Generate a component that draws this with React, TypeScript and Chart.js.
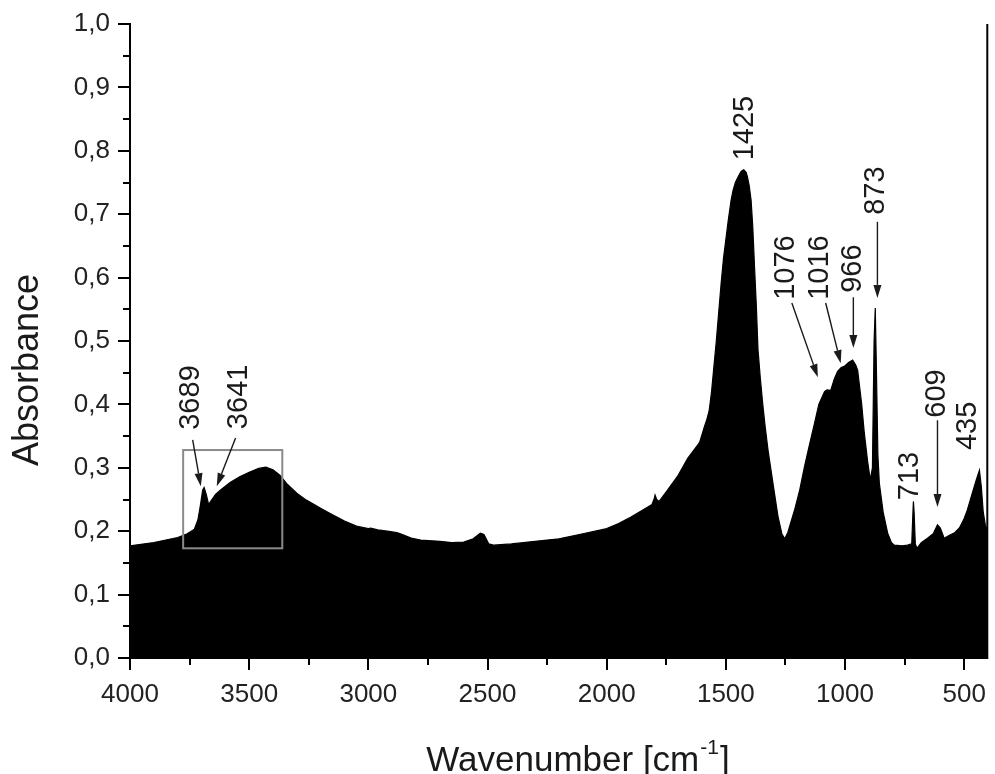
import React, { useEffect, useRef } from "react";
import { Chart, registerables } from "chart.js";

Chart.register(...registerables);

// ---- Spectrum data (wavenumber in cm-1, absorbance) ----
const WAVENUMBER = [
  4000, 3900, 3800, 3760, 3730, 3715, 3705, 3695, 3689, 3680, 3670, 3660, 3641, 3620, 3580, 3540, 3500, 3460, 3430,
  3400, 3370, 3340, 3300, 3260, 3200, 3160, 3100, 3050, 3000, 2990, 2960, 2920, 2880, 2860, 2820, 2780, 2700, 2650,
  2600, 2560, 2530, 2515, 2495, 2475, 2400, 2300, 2200, 2100, 2000, 1950, 1900, 1850, 1810, 1800, 1797, 1790, 1780,
  1750, 1700, 1660, 1630, 1610, 1590, 1580, 1570, 1560, 1550, 1540, 1530, 1520, 1510, 1500, 1490, 1478, 1470, 1460,
  1450, 1440, 1435, 1425, 1415, 1410, 1402, 1394, 1387, 1380, 1372, 1365, 1355, 1345, 1335, 1323, 1300, 1281, 1265,
  1253, 1240, 1212, 1190, 1170, 1150, 1128, 1110, 1086, 1076, 1060, 1045, 1031, 1016, 1003, 985, 968, 955, 947, 930,
  919, 905, 894, 885, 878, 873, 868, 862, 856, 840, 821, 805, 793, 760, 738, 720, 715, 713, 710, 705, 698, 680, 654,
  630, 612, 600, 584, 560, 542, 520, 500, 487, 470, 450, 436, 428, 420, 410, 403,
];
const ABSORBANCE = [
  0.177, 0.182, 0.19, 0.196, 0.203, 0.218, 0.24, 0.265, 0.269, 0.258, 0.242, 0.248, 0.258, 0.265, 0.277, 0.286, 0.293,
  0.299, 0.301, 0.297, 0.288, 0.274, 0.26, 0.249, 0.236, 0.228, 0.216, 0.208, 0.204, 0.205, 0.202, 0.2, 0.198, 0.195,
  0.189, 0.186, 0.184, 0.182, 0.183, 0.188, 0.197, 0.195, 0.18, 0.178, 0.18, 0.184, 0.188, 0.196, 0.204, 0.212, 0.222,
  0.233, 0.242, 0.252, 0.257, 0.25, 0.247, 0.262, 0.288, 0.315, 0.33, 0.34, 0.365, 0.376, 0.39, 0.42, 0.46, 0.5,
  0.545, 0.59, 0.63, 0.66, 0.69, 0.722, 0.737, 0.75, 0.758, 0.765, 0.768, 0.77, 0.766, 0.76, 0.745, 0.722, 0.68, 0.62,
  0.555, 0.486, 0.44, 0.4, 0.365, 0.328, 0.27, 0.223, 0.196, 0.188, 0.198, 0.233, 0.265, 0.302, 0.335, 0.37, 0.4,
  0.42, 0.423, 0.422, 0.44, 0.452, 0.458, 0.46, 0.466, 0.47, 0.462, 0.454, 0.4, 0.355, 0.31, 0.281, 0.3, 0.5, 0.552,
  0.45, 0.32, 0.276, 0.23, 0.197, 0.182, 0.178, 0.177, 0.178, 0.18, 0.23, 0.247, 0.23, 0.18, 0.173, 0.182, 0.189,
  0.196, 0.21, 0.205, 0.189, 0.194, 0.197, 0.205, 0.22, 0.233, 0.255, 0.28, 0.296, 0.27, 0.23, 0.207, 0.205,
];

// ---- Axes ----
const X_MIN = 403;
const X_MAX = 4000;
const X_TICKS = [4000, 3500, 3000, 2500, 2000, 1500, 1000, 500];
const X_MINOR = [3750, 3250, 2750, 2250, 1750, 1250, 750];
const Y_TICKS = [0, 0.1, 0.2, 0.3, 0.4, 0.5, 0.6, 0.7, 0.8, 0.9, 1.0];
const Y_MINOR = [0.05, 0.15, 0.25, 0.35, 0.45, 0.55, 0.65, 0.75, 0.85, 0.95];
const X_TITLE = "Wavenumber [cm";
const X_TITLE_SUP = "-1";
const X_TITLE_END = "]";
const Y_TITLE = "Absorbance";

// ---- Peak annotations (data coordinates) ----
const PEAK_LABELS = ["3689", "3641", "1425", "1076", "1016", "966", "873", "713", "609", "435"];
const LABEL_WN = [3745, 3544, 1420, 1248, 1106, 968, 872, 727, 612, 483];
const LABEL_ABS = [0.36, 0.361, 0.785, 0.565, 0.565, 0.576, 0.699, 0.249, 0.379, 0.328];
const ARROW_FROM_WN = [3737, 3557, null, 1223, 1081, 965, 864, null, 612, null];
const ARROW_FROM_ABS = [0.344, 0.347, null, 0.56, 0.56, 0.569, 0.688, null, 0.375, null];
const ARROW_TO_WN = [3703, 3636, null, 1114, 1018, 965, 864, null, 612, null];
const ARROW_TO_ABS = [0.271, 0.271, null, 0.443, 0.465, 0.489, 0.568, null, 0.238, null];

// ---- Inset box (data coordinates) ----
const BOX_WN = [3777, 3361];
const BOX_ABS = [0.328, 0.173];

const FONT = '"Liberation Sans", Arial, sans-serif';

const decorPlugin = {
  id: "decor",
  afterDraw(chart: any) {
    const ctx = chart.ctx;
    const xs = chart.scales.x;
    const ys = chart.scales.y;
    const area = chart.chartArea;
    ctx.save();
    // right border
    ctx.strokeStyle = "#000";
    ctx.lineWidth = 2;
    ctx.beginPath();
    ctx.moveTo(area.right, area.top);
    ctx.lineTo(area.right, area.bottom + 1);
    ctx.stroke();
    // minor ticks
    ctx.beginPath();
    X_MINOR.forEach((v) => {
      const px = Math.round(xs.getPixelForValue(v));
      ctx.moveTo(px, area.bottom);
      ctx.lineTo(px, area.bottom + 7);
    });
    Y_MINOR.forEach((v) => {
      const py = Math.round(ys.getPixelForValue(v));
      ctx.moveTo(area.left, py);
      ctx.lineTo(area.left - 7, py);
    });
    ctx.stroke();

    // inset box
    ctx.strokeStyle = "#8a8a8a";
    ctx.lineWidth = 2;
    const bx1 = xs.getPixelForValue(BOX_WN[0]);
    const bx2 = xs.getPixelForValue(BOX_WN[1]);
    const by1 = ys.getPixelForValue(BOX_ABS[0]);
    const by2 = ys.getPixelForValue(BOX_ABS[1]);
    ctx.strokeRect(bx1, by1, bx2 - bx1, by2 - by1);

    // peak labels
    ctx.fillStyle = "#1a1a1a";
    ctx.font = `29px ${FONT}`;
    ctx.textAlign = "left";
    ctx.textBaseline = "middle";
    PEAK_LABELS.forEach((t, i) => {
      const px = xs.getPixelForValue(LABEL_WN[i]);
      const py = ys.getPixelForValue(LABEL_ABS[i]);
      ctx.save();
      ctx.translate(px, py);
      ctx.rotate(-Math.PI / 2);
      ctx.fillText(t, 0, 0);
      ctx.restore();
    });

    // arrows
    ctx.strokeStyle = "#1a1a1a";
    ctx.fillStyle = "#1a1a1a";
    ctx.lineWidth = 1.4;
    PEAK_LABELS.forEach((_, i) => {
      const fw = ARROW_FROM_WN[i];
      if (fw == null) return;
      const x1 = xs.getPixelForValue(fw);
      const y1 = ys.getPixelForValue(ARROW_FROM_ABS[i] as number);
      const x2 = xs.getPixelForValue(ARROW_TO_WN[i] as number);
      const y2 = ys.getPixelForValue(ARROW_TO_ABS[i] as number);
      const ang = Math.atan2(y2 - y1, x2 - x1);
      const hl = 13;
      const hw = 4;
      const bx = x2 - hl * Math.cos(ang);
      const byy = y2 - hl * Math.sin(ang);
      ctx.beginPath();
      ctx.moveTo(x1, y1);
      ctx.lineTo(bx, byy);
      ctx.stroke();
      ctx.beginPath();
      ctx.moveTo(x2, y2);
      ctx.lineTo(bx + hw * Math.sin(ang), byy - hw * Math.cos(ang));
      ctx.lineTo(bx - hw * Math.sin(ang), byy + hw * Math.cos(ang));
      ctx.closePath();
      ctx.fill();
    });

    // axis titles
    ctx.fillStyle = "#1a1a1a";
    ctx.font = `36px ${FONT}`;
    ctx.textAlign = "center";
    ctx.textBaseline = "middle";
    ctx.save();
    ctx.translate(28, 370);
    ctx.rotate(-Math.PI / 2);
    ctx.fillText(Y_TITLE, 0, 0);
    ctx.restore();

    const mainFont = `35px ${FONT}`;
    const supFont = `21px ${FONT}`;
    ctx.font = mainFont;
    const w1 = ctx.measureText(X_TITLE).width;
    const w3 = ctx.measureText(X_TITLE_END).width;
    ctx.font = supFont;
    const w2 = ctx.measureText(X_TITLE_SUP).width;
    const total = w1 + w2 + w3 + 2;
    let sx = 578 - total / 2;
    const base = 771;
    ctx.textAlign = "left";
    ctx.textBaseline = "alphabetic";
    ctx.font = mainFont;
    ctx.fillText(X_TITLE, sx, base);
    sx += w1 + 1;
    ctx.font = supFont;
    ctx.fillText(X_TITLE_SUP, sx, base - 17);
    sx += w2 + 1;
    ctx.font = mainFont;
    ctx.fillText(X_TITLE_END, sx, base);
    ctx.restore();
  },
};

export default function App() {
  const ref = useRef<HTMLCanvasElement | null>(null);
  useEffect(() => {
    if (!ref.current) return;
    const points = WAVENUMBER.map((w, i) => ({ x: w, y: ABSORBANCE[i] }));
    const chart = new Chart(ref.current, {
      type: "line",
      data: {
        datasets: [
          {
            data: points,
            borderColor: "#000",
            backgroundColor: "#000",
            borderWidth: 1.2,
            pointRadius: 0,
            fill: "origin",
            tension: 0,
          },
        ],
      },
      options: {
        animation: false,
        responsive: false,
        maintainAspectRatio: false,
        layout: { padding: { top: 24, right: 5, left: 0, bottom: 0 } },
        plugins: { legend: { display: false }, tooltip: { enabled: false }, title: { display: false } },
        scales: {
          x: {
            type: "linear",
            reverse: true,
            min: X_MIN,
            max: X_MAX,
            afterBuildTicks: (scale: any) => {
              scale.ticks = X_TICKS.map((v) => ({ value: v }));
            },
            afterFit: (scale: any) => {
              scale.height = 116;
            },
            grid: {
              display: true,
              drawOnChartArea: false,
              drawTicks: true,
              tickLength: 12,
              color: "#000",
              lineWidth: 2,
            },
            border: { display: true, color: "#000", width: 2 },
            ticks: {
              color: "#222",
              padding: 9,
              maxRotation: 0,
              autoSkip: false,
              font: { family: FONT, size: 26 },
              callback: (v: any) => String(v),
            },
          },
          y: {
            type: "linear",
            min: 0,
            max: 1,
            afterBuildTicks: (scale: any) => {
              scale.ticks = Y_TICKS.map((v) => ({ value: v }));
            },
            afterFit: (scale: any) => {
              scale.width = 130;
            },
            grid: {
              display: true,
              drawOnChartArea: false,
              drawTicks: true,
              tickLength: 12,
              color: "#000",
              lineWidth: 2,
            },
            border: { display: true, color: "#000", width: 2 },
            ticks: {
              color: "#222",
              padding: 8,
              autoSkip: false,
              font: { family: FONT, size: 26 },
              callback: (v: any) => Number(v).toFixed(1).replace(".", ","),
            },
          },
        },
      },
      plugins: [decorPlugin],
    });
    return () => chart.destroy();
  }, []);
  return (
    <div style={{ position: "fixed", left: 0, top: 0, width: 995, height: 774, background: "#fff" }}>
      <canvas ref={ref} width={995} height={774} style={{ width: 995, height: 774, display: "block" }} />
    </div>
  );
}
